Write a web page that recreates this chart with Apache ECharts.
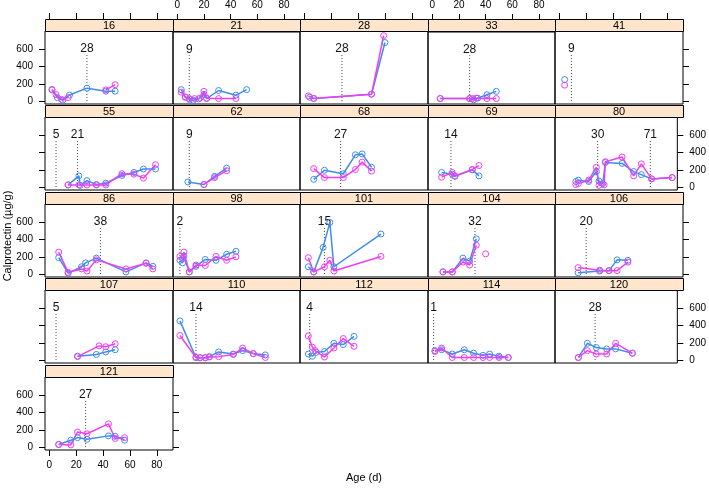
<!DOCTYPE html>
<html><head><meta charset="utf-8">
<script src="https://cdn.jsdelivr.net/npm/echarts@6/dist/echarts.min.js"></script>
<style>html,body{margin:0;padding:0;background:#fff}#c{width:709px;height:488px}</style>
</head><body><div id="c"></div>
<script>
// ---- data ----
const panelIds = ['16','21','28','33','41','55','62','68','69','80','86','98','101','104','106','107','110','112','114','120','121'];
const refAges = [[28],[9],[28],[28],[9],[5,21],[9],[27],[14],[30,71],[38],[2],[15],[32],[20],[5],[14],[4],[1],[28],[27]];
const blueData = [
  [[2,130],[6,40],[10,10],[15,70],[28,150],[42,115],[49,115]],
  [[3,135],[6,50],[9,20],[12,10],[16,25],[20,80],[22,30],[31,125],[44,70],[52,135]],
  [[4,45],[7,30],[50,80],[60,680]],
  [[6,30],[28,30],[31,15],[34,35],[41,75],[48,115]],
  [[4,250]],
  [[14,25],[22,130],[23,20],[28,75],[35,30],[42,45],[54,135],[63,170],[70,210],[79,210]],
  [[8,60],[20,30],[28,125],[37,220]],
  [[7,90],[15,195],[29,155],[38,375],[43,385],[50,230]],
  [[7,170],[15,150],[17,125],[30,200],[35,130]],
  [[13,65],[15,80],[23,65],[29,180],[31,70],[34,40],[36,285],[49,275],[58,180],[64,145],[72,95],[88,110]],
  [[7,190],[14,10],[24,85],[27,130],[35,185],[57,25],[72,130],[77,90]],
  [[2,160],[4,130],[5,210],[9,25],[14,90],[21,170],[29,160],[37,230],[44,265]],
  [[3,85],[7,25],[14,310],[19,600],[22,85],[57,465]],
  [[8,25],[15,25],[23,185],[28,150],[33,410]],
  [[14,15],[30,35],[37,40],[43,165],[51,160]],
  [[21,45],[35,65],[42,95],[49,120]],
  [[2,455],[14,30],[17,25],[21,30],[24,40],[31,95],[42,70],[49,110],[57,75],[66,60]],
  [[3,70],[6,45],[9,90],[15,100],[22,195],[29,180],[37,275]],
  [[2,110],[7,120],[15,70],[24,120],[31,80],[38,55],[43,70],[50,45],[57,30]],
  [[15,30],[22,195],[29,145],[37,130],[44,130],[57,80]],
  [[7,30],[16,80],[21,110],[28,90],[44,130],[49,125],[56,80]]
];
const pinkData = [
  [[2,135],[5,75],[9,20],[14,40],[30,null],[42,130],[49,190]],
  [[3,105],[6,45],[9,30],[13,30],[17,35],[20,115],[22,35],[31,30],[44,30]],
  [[3,60],[7,30],[50,80],[59,760]],
  [[6,30],[28,30],[30,30],[33,35],[41,30],[48,30]],
  [[4,185]],
  [[14,25],[22,25],[28,25],[35,25],[42,25],[54,155],[63,150],[70,105],[79,260]],
  [[20,30],[28,110],[37,190]],
  [[7,215],[15,110],[29,110],[38,205],[43,290],[50,185]],
  [[7,115],[15,170],[17,130],[30,205],[35,250]],
  [[13,30],[15,40],[23,80],[29,230],[31,20],[35,25],[36,295],[49,350],[58,130],[64,270],[72,95],[88,110]],
  [[7,255],[14,20],[24,60],[28,35],[35,165],[57,60],[72,125],[77,60]],
  [[2,205],[4,180],[5,255],[9,25],[14,105],[21,100],[29,205],[37,160],[44,200]],
  [[3,190],[7,25],[15,85],[19,160],[22,35],[57,205]],
  [[8,25],[15,25],[23,140],[28,105],[33,335],[36,null],[40,235]],
  [[14,75],[30,45],[37,40],[43,40],[51,140]],
  [[21,40],[37,165],[42,155],[49,190]],
  [[2,285],[14,30],[17,30],[21,25],[24,35],[31,40],[42,65],[49,140],[57,75],[66,30]],
  [[3,280],[6,150],[8,110],[15,35],[22,140],[29,250],[37,160]],
  [[2,100],[7,140],[15,30],[24,30],[31,30],[38,30],[43,30],[50,30],[57,30]],
  [[15,30],[22,110],[29,70],[37,70],[44,195],[57,80]],
  [[7,30],[16,25],[21,175],[28,155],[44,270],[49,100],[56,110]]
];
const xTicks = [0,20,40,60,80];
const yTicks = [0,200,400,600];
const refLineTop = 540;
const refLabelY = 610;
const xTitle = 'Age (d)';
const yTitle = 'Calprotectin (µg/g)';

// ---- layout / style ----
const FONT = 'Liberation Sans, Arial, sans-serif';
const XMIN = -3.2, XMAX = 92, YMIN = -34, YMAX = 814;
const COLS = [45,173,300,428,555,683];
const STRIP_TOPS = [19,105,192,278,365];
const SH = 12, PH = 73;
const BLUE = '#3f8cec', PINK = '#f53cf5';

const grids = [], xAxes = [], yAxes = [], series = [], graphics = [];
const tickStyle = {color:'#000', width:1};
function xAxisDef(g, pos, tickShow, labelShow, offset){
  return {type:'value', gridIndex:g, min:XMIN, max:XMAX, position:pos, offset:offset||0,
    splitLine:{show:false}, axisLine:{show:false, onZero:false},
    axisTick:{show:tickShow, inside:false, length:6, customValues:xTicks, lineStyle:tickStyle},
    axisLabel:{show:labelShow, customValues:xTicks, margin:10, color:'#000', fontSize:10, fontFamily:FONT}};
}
function yAxisDef(g, pos, tickShow, labelShow){
  return {type:'value', gridIndex:g, min:YMIN, max:YMAX, position:pos,
    splitLine:{show:false}, axisLine:{show:false, onZero:false},
    axisTick:{show:tickShow, inside:false, length:6, customValues:yTicks, lineStyle:tickStyle},
    axisLabel:{show:labelShow, customValues:yTicks, margin:12, color:'#000', fontSize:10, fontFamily:FONT}};
}

panelIds.forEach((id,p)=>{
  const r = Math.floor(p/5), c = p%5;
  const L = COLS[c], W = COLS[c+1]-COLS[c], S = STRIP_TOPS[r], T = S + SH;
  const isLast = (c===4) || (p===panelIds.length-1);
  grids.push({left:L, top:T, width:W, height:PH, show:true, borderColor:'#000', borderWidth:1, backgroundColor:'rgba(0,0,0,0)'});
  const g = grids.length-1;
  xAxes.push(xAxisDef(g,'bottom', r===4, r===4 && c%2===0));
  const xi = xAxes.length-1;
  if (r===0) xAxes.push(xAxisDef(g,'top', true, c%2===1, SH));
  yAxes.push(yAxisDef(g,'left', c===0, c===0 && r%2===0));
  const yi = yAxes.length-1;
  if (isLast) yAxes.push(yAxisDef(g,'right', true, r%2===1));

  // strip
  graphics.push({type:'rect', shape:{x:L+0.5, y:S+0.5, width:W, height:SH}, style:{fill:'#ffe5cc', stroke:'#000', lineWidth:1}, z:10});
  graphics.push({type:'text', x:L+W/2, y:S+SH/2+1, style:{text:id, fill:'#000', font:'11px '+FONT, textAlign:'center', textVerticalAlign:'middle'}, z:11});

  // reference lines
  refAges[p].forEach(a=>{
    series.push({type:'line', xAxisIndex:xi, yAxisIndex:yi, data:[[a,0],[a,refLineTop]], symbol:'none', silent:true,
      lineStyle:{type:[1,2], color:'#444', width:1}, z:1, animation:false});
    series.push({type:'scatter', xAxisIndex:xi, yAxisIndex:yi, data:[[a,refLabelY]], symbolSize:1, silent:true,
      itemStyle:{color:'rgba(0,0,0,0)'},
      label:{show:true, position:'inside', formatter:(pr)=>String(pr.value[0]), color:'#111', opacity:1, fontSize:12, fontFamily:FONT}, z:2});
  });
  // data
  [[blueData[p],BLUE],[pinkData[p],PINK]].forEach(([d,col])=>{
    series.push({type:'line', xAxisIndex:xi, yAxisIndex:yi, data:d, connectNulls:false,
      symbol:'circle', symbolSize:6, showSymbol:true, showAllSymbol:true,
      lineStyle:{color:col, width:1.5},
      itemStyle:{color:'rgba(255,255,255,0)', borderColor:col, borderWidth:1},
      emphasis:{disabled:true}, z:3});
  });
});

graphics.push({type:'text', x:8, y:236, rotation:Math.PI/2, style:{text:yTitle, fill:'#000', font:'11px '+FONT, textAlign:'center', textVerticalAlign:'middle'}});
graphics.push({type:'text', x:(COLS[0]+COLS[5])/2, y:478, style:{text:xTitle, fill:'#000', font:'11px '+FONT, textAlign:'center', textVerticalAlign:'middle'}});

const chart = echarts.init(document.getElementById('c'));
chart.setOption({animation:false, grid:grids, xAxis:xAxes, yAxis:yAxes, series:series, graphic:graphics});
</script></body></html>
